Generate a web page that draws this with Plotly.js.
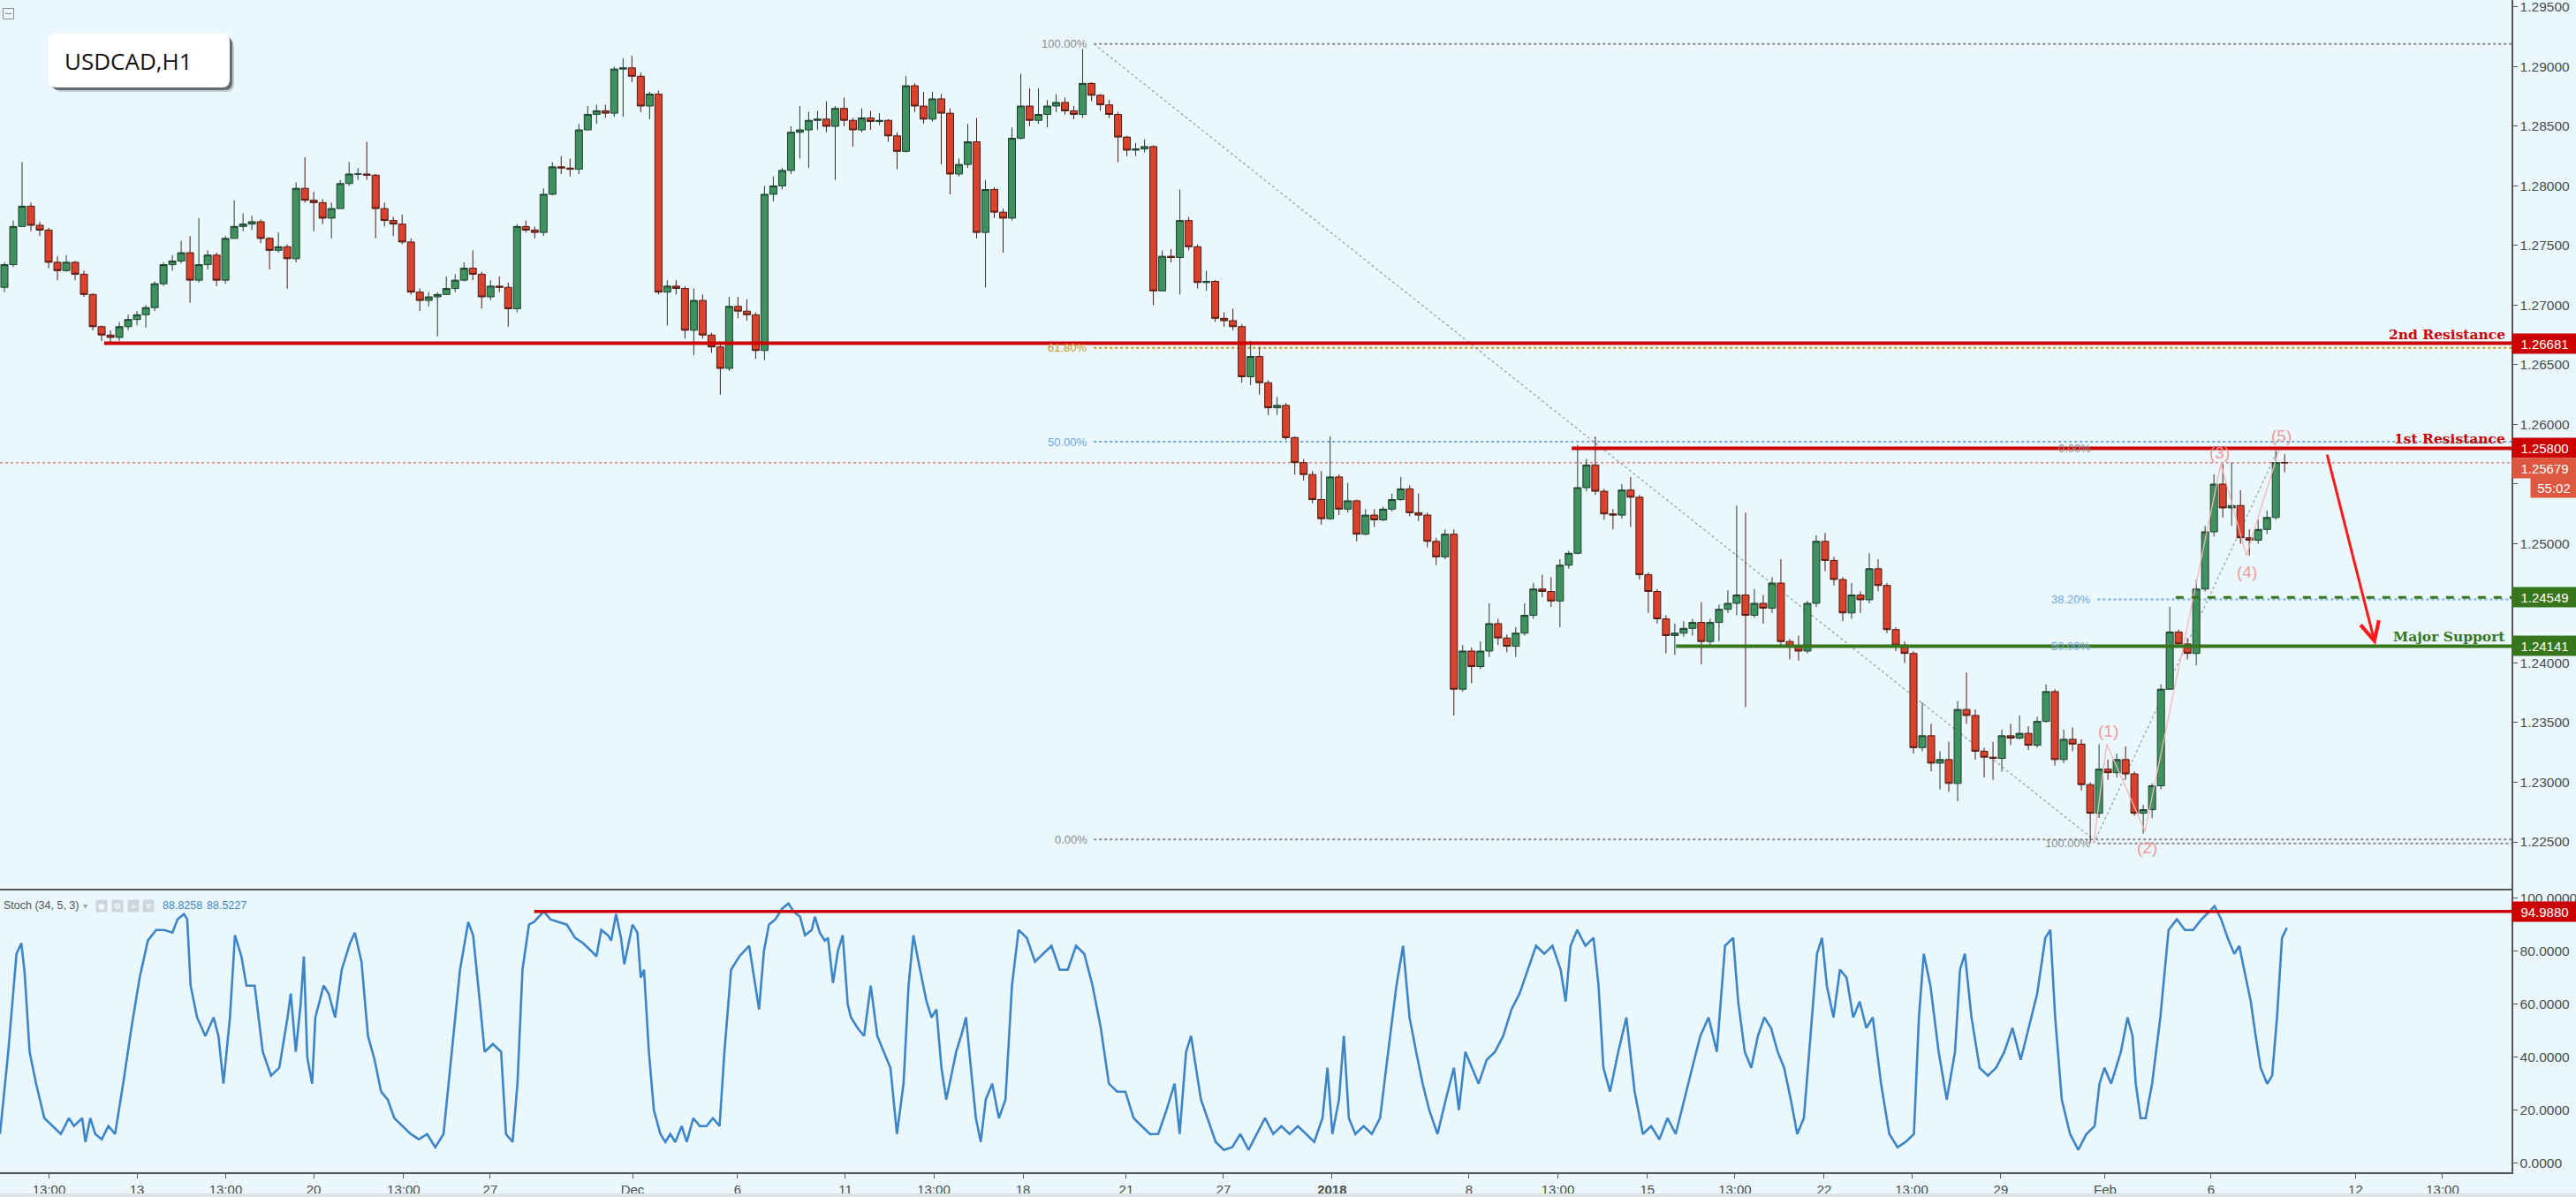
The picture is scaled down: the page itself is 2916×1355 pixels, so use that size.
<!DOCTYPE html>
<html><head><meta charset="utf-8">
<script src="https://cdn.plot.ly/plotly-3.0.1.min.js"></script>
<style>html,body{margin:0;padding:0;background:#eaf8fd;}#chart{width:2916px;height:1355px;}</style>
</head><body><div id="chart"></div>
<script>
// ---------- DATA (USDCAD H1, aggregated to 6-hour candles) ----------
const open = [1.2715,1.2734,1.2766,1.2783,1.2767,1.2763,1.2736,1.2729,1.2736,1.2726,
1.2709,1.2682,1.2675,1.2673,1.2682,1.2688,1.2692,1.2698,1.2718,1.2734,
1.2737,1.2744,1.2721,1.2734,1.2742,1.2721,1.2756,1.2766,1.2768,1.2770,
1.2756,1.2746,1.2749,1.2739,1.2798,1.2788,1.2786,1.2773,1.2781,1.2802,
1.2810,1.2810,1.2809,1.2781,1.2771,1.2768,1.2753,1.2711,1.2704,1.2707,
1.2709,1.2714,1.2721,1.2731,1.2726,1.2707,1.2716,1.2715,1.2697,1.2766,
1.2763,1.2761,1.2793,1.2816,1.2815,1.2814,1.2847,1.2860,1.2863,1.2861,
1.2898,1.2899,1.2892,1.2867,1.2877,1.2711,1.2716,1.2714,1.2679,1.2704,
1.2675,1.2665,1.2647,1.2699,1.2695,1.2692,1.2662,1.2793,1.2800,1.2813,
1.2845,1.2847,1.2855,1.2856,1.2850,1.2865,1.2855,1.2847,1.2857,1.2854,
1.2855,1.2842,1.2829,1.2884,1.2867,1.2856,1.2873,1.2861,1.2810,1.2818,
1.2837,1.2761,1.2797,1.2778,1.2773,1.2840,1.2867,1.2855,1.2860,1.2867,
1.2870,1.2863,1.2860,1.2886,1.2876,1.2868,1.2860,1.2841,1.2830,1.2831,
1.2833,1.2712,1.2741,1.2740,1.2771,1.2749,1.2719,1.2720,1.2689,1.2687,
1.2682,1.2640,1.2657,1.2635,1.2614,1.2616,1.2589,1.2568,1.2558,1.2537,
1.2521,1.2556,1.2529,1.2536,1.2508,1.2524,1.2520,1.2529,1.2537,1.2546,
1.2526,1.2524,1.2502,1.2489,1.2508,1.2378,1.2410,1.2397,1.2410,1.2433,
1.2421,1.2414,1.2425,1.2440,1.2462,1.2460,1.2452,1.2482,1.2492,1.2547,
1.2566,1.2544,1.2525,1.2524,1.2545,1.2539,1.2474,1.2460,1.2437,1.2423,
1.2425,1.2429,1.2434,1.2418,1.2434,1.2445,1.2450,1.2457,1.2440,1.2450,
1.2446,1.2467,1.2418,1.2414,1.2410,1.2450,1.2502,1.2486,1.2470,1.2442,
1.2457,1.2453,1.2479,1.2465,1.2428,1.2415,1.2408,1.2329,1.2339,1.2316,
1.2319,1.2299,1.2361,1.2356,1.2326,1.2321,1.2320,1.2339,1.2337,1.2341,
1.2331,1.2351,1.2376,1.2319,1.2336,1.2332,1.2298,1.2274,1.2311,1.2308,
1.2319,1.2307,1.2274,1.2277,1.2297,1.2378,1.2426,1.2416,1.2408,1.2462,
1.2510,1.2550,1.2530,1.2532,1.2505,1.2503,1.2512,1.2522,1.2568];
const high = [1.2736,1.2771,1.2820,1.2786,1.2770,1.2765,1.2741,1.2742,1.2737,1.2729,
1.2710,1.2683,1.2679,1.2686,1.2692,1.2695,1.2700,1.2720,1.2736,1.2742,
1.2754,1.2758,1.2773,1.2746,1.2744,1.2758,1.2788,1.2777,1.2775,1.2772,
1.2757,1.2761,1.2751,1.2803,1.2824,1.2795,1.2789,1.2786,1.2805,1.2820,
1.2815,1.2837,1.2810,1.2786,1.2774,1.2776,1.2756,1.2714,1.2711,1.2711,
1.2724,1.2726,1.2736,1.2746,1.2728,1.2721,1.2724,1.2719,1.2768,1.2771,
1.2766,1.2798,1.2820,1.2825,1.2823,1.2852,1.2867,1.2868,1.2868,1.2900,
1.2907,1.2909,1.2895,1.2879,1.2880,1.2721,1.2721,1.2716,1.2714,1.2709,
1.2677,1.2667,1.2707,1.2707,1.2705,1.2694,1.2800,1.2808,1.2815,1.2850,
1.2867,1.2862,1.2863,1.2871,1.2867,1.2874,1.2857,1.2865,1.2863,1.2861,
1.2856,1.2845,1.2892,1.2886,1.2879,1.2879,1.2877,1.2865,1.2823,1.2852,
1.2857,1.2805,1.2799,1.2781,1.2849,1.2894,1.2882,1.2882,1.2872,1.2877,
1.2874,1.2867,1.2915,1.2887,1.2877,1.2872,1.2862,1.2842,1.2836,1.2839,
1.2834,1.2746,1.2747,1.2797,1.2774,1.2751,1.2729,1.2721,1.2694,1.2697,
1.2684,1.2670,1.2665,1.2637,1.2623,1.2618,1.2590,1.2571,1.2561,1.2561,
1.2590,1.2558,1.2551,1.2537,1.2529,1.2529,1.2531,1.2542,1.2556,1.2549,
1.2542,1.2526,1.2505,1.2512,1.2512,1.2415,1.2413,1.2418,1.2450,1.2437,
1.2424,1.2430,1.2450,1.2467,1.2474,1.2472,1.2487,1.2494,1.2583,1.2571,
1.2590,1.2546,1.2529,1.2550,1.2556,1.2541,1.2476,1.2462,1.2440,1.2433,
1.2435,1.2437,1.2451,1.2437,1.2449,1.2461,1.2532,1.2526,1.2462,1.2457,
1.2472,1.2487,1.2420,1.2423,1.2452,1.2507,1.2509,1.2489,1.2472,1.2467,
1.2460,1.2492,1.2487,1.2467,1.2430,1.2418,1.2410,1.2367,1.2349,1.2326,
1.2334,1.2368,1.2392,1.2361,1.2329,1.2334,1.2344,1.2349,1.2356,1.2347,
1.2355,1.2382,1.2378,1.2344,1.2346,1.2336,1.2300,1.2332,1.2319,1.2324,
1.2330,1.2309,1.2281,1.2299,1.2382,1.2447,1.2428,1.2421,1.2470,1.2515,
1.2558,1.2567,1.2568,1.2545,1.2512,1.2520,1.2528,1.2578,1.2575];
const low = [1.2711,1.2732,1.2766,1.2762,1.2758,1.2731,1.2721,1.2728,1.2721,1.2707,
1.2679,1.2670,1.2668,1.2670,1.2679,1.2683,1.2681,1.2695,1.2716,1.2729,
1.2735,1.2702,1.2719,1.2730,1.2716,1.2718,1.2756,1.2762,1.2763,1.2752,
1.2730,1.2744,1.2714,1.2736,1.2786,1.2762,1.2768,1.2756,1.2781,1.2800,
1.2805,1.2805,1.2756,1.2766,1.2758,1.2751,1.2709,1.2695,1.2699,1.2674,
1.2709,1.2711,1.2720,1.2721,1.2697,1.2704,1.2711,1.2682,1.2694,1.2761,
1.2756,1.2758,1.2792,1.2810,1.2808,1.2810,1.2847,1.2852,1.2857,1.2858,
1.2858,1.2887,1.2862,1.2856,1.2709,1.2683,1.2709,1.2672,1.2658,1.2672,
1.2660,1.2625,1.2645,1.2689,1.2687,1.2655,1.2654,1.2787,1.2797,1.2810,
1.2823,1.2815,1.2847,1.2845,1.2805,1.2850,1.2833,1.2845,1.2847,1.2851,
1.2837,1.2814,1.2828,1.2862,1.2852,1.2854,1.2818,1.2793,1.2808,1.2815,
1.2756,1.2715,1.2773,1.2744,1.2771,1.2839,1.2850,1.2852,1.2849,1.2862,
1.2860,1.2856,1.2857,1.2871,1.2863,1.2857,1.2820,1.2825,1.2825,1.2828,
1.2700,1.2712,1.2736,1.2709,1.2746,1.2714,1.2712,1.2686,1.2682,1.2679,
1.2635,1.2633,1.2625,1.2608,1.2608,1.2587,1.2558,1.2553,1.2534,1.2516,
1.2520,1.2524,1.2526,1.2502,1.2507,1.2514,1.2519,1.2527,1.2536,1.2523,
1.2519,1.2497,1.2482,1.2487,1.2356,1.2376,1.2383,1.2395,1.2405,1.2415,
1.2409,1.2405,1.2423,1.2437,1.2455,1.2447,1.2430,1.2479,1.2491,1.2544,
1.2541,1.2520,1.2512,1.2521,1.2514,1.2470,1.2442,1.2433,1.2408,1.2407,
1.2422,1.2423,1.2399,1.2415,1.2418,1.2442,1.2440,1.2363,1.2438,1.2433,
1.2442,1.2415,1.2403,1.2402,1.2408,1.2447,1.2477,1.2465,1.2435,1.2437,
1.2442,1.2450,1.2460,1.2425,1.2410,1.2400,1.2324,1.2326,1.2309,1.2294,
1.2292,1.2284,1.2349,1.2319,1.2304,1.2302,1.2309,1.2331,1.2336,1.2327,
1.2329,1.2350,1.2314,1.2316,1.2326,1.2293,1.2249,1.2270,1.2302,1.2304,
1.2302,1.2272,1.2257,1.2270,1.2294,1.2378,1.2413,1.2403,1.2398,1.2460,
1.2506,1.2522,1.2515,1.2500,1.2490,1.2500,1.2508,1.2520,1.2560];
const close = [1.2734,1.2766,1.2783,1.2767,1.2763,1.2736,1.2729,1.2736,1.2726,1.2709,
1.2682,1.2675,1.2673,1.2682,1.2688,1.2692,1.2698,1.2718,1.2734,1.2737,
1.2744,1.2721,1.2734,1.2742,1.2721,1.2756,1.2766,1.2768,1.2770,1.2756,
1.2746,1.2749,1.2739,1.2798,1.2788,1.2786,1.2773,1.2781,1.2802,1.2810,
1.2810,1.2809,1.2781,1.2771,1.2768,1.2753,1.2711,1.2704,1.2707,1.2709,
1.2714,1.2721,1.2731,1.2726,1.2707,1.2716,1.2715,1.2697,1.2766,1.2763,
1.2761,1.2793,1.2816,1.2815,1.2814,1.2847,1.2860,1.2863,1.2861,1.2898,
1.2899,1.2892,1.2867,1.2877,1.2711,1.2716,1.2714,1.2679,1.2704,1.2675,
1.2665,1.2647,1.2699,1.2695,1.2692,1.2662,1.2793,1.2800,1.2813,1.2845,
1.2847,1.2855,1.2856,1.2850,1.2865,1.2855,1.2847,1.2857,1.2854,1.2855,
1.2842,1.2829,1.2884,1.2867,1.2856,1.2873,1.2861,1.2810,1.2818,1.2837,
1.2761,1.2797,1.2778,1.2773,1.2840,1.2867,1.2855,1.2860,1.2867,1.2870,
1.2863,1.2860,1.2886,1.2876,1.2868,1.2860,1.2841,1.2830,1.2831,1.2833,
1.2712,1.2741,1.2740,1.2771,1.2749,1.2719,1.2720,1.2689,1.2687,1.2682,
1.2640,1.2657,1.2635,1.2614,1.2616,1.2589,1.2568,1.2558,1.2537,1.2521,
1.2556,1.2529,1.2536,1.2508,1.2524,1.2520,1.2529,1.2537,1.2546,1.2526,
1.2524,1.2502,1.2489,1.2508,1.2378,1.2410,1.2397,1.2410,1.2433,1.2421,
1.2414,1.2425,1.2440,1.2462,1.2460,1.2452,1.2482,1.2492,1.2547,1.2566,
1.2544,1.2525,1.2524,1.2545,1.2539,1.2474,1.2460,1.2437,1.2423,1.2425,
1.2429,1.2434,1.2418,1.2434,1.2445,1.2450,1.2457,1.2440,1.2450,1.2446,
1.2467,1.2418,1.2414,1.2410,1.2450,1.2502,1.2486,1.2470,1.2442,1.2457,
1.2453,1.2479,1.2465,1.2428,1.2415,1.2408,1.2329,1.2339,1.2316,1.2319,
1.2299,1.2361,1.2356,1.2326,1.2321,1.2320,1.2339,1.2337,1.2341,1.2331,
1.2351,1.2376,1.2319,1.2336,1.2332,1.2298,1.2274,1.2311,1.2308,1.2319,
1.2307,1.2274,1.2277,1.2297,1.2378,1.2426,1.2416,1.2408,1.2462,1.2510,
1.2550,1.2530,1.2532,1.2505,1.2503,1.2512,1.2522,1.2568,1.25679];

// Stochastic (34,5,3) %K, positions in trading hours from the left edge
const stochHour = [0,5.6,11.2,14.5,16.7,20.1,24.5,30.1,35.7,41.3,46.8,50.2,55.8,58,61.3,64.7,69.1,73.6,78.1,83.6,89.2,94.8,100.4,106,111.5,117.1,120.5,124.9,127.1,129.4,133.8,139.4,145,148.3,151.7,156.1,159.5,163.9,167.3,172.9,178.4,184,189.6,195.2,197.4,200.8,204.1,206.3,208.6,211.9,214.1,219.7,223.1,227.5,232,237.6,240.9,245.4,249.8,254.3,258.7,263.2,267.7,273.2,278.8,284.4,290,295.5,301.1,306.7,312.3,317.9,321.2,325.7,329,334.6,340.2,343.5,348,351.3,354.7,359.1,362.5,369.2,373.6,379.2,384.8,390.4,395.9,401.5,404.9,408.2,412.7,414.9,418.2,421.6,423.8,429.4,432.7,435,437.2,440.5,443.9,448.3,451.7,455,458.4,462.8,466.2,470.7,475.1,479.6,484,488.5,491.8,496.3,501.9,508.6,511.9,515.3,518.6,522,526.4,530.9,535.3,538.7,543.1,546.5,551,553.2,556.5,559.9,562.1,565.5,568.8,572.1,575.5,577.7,582.2,586.6,591.1,595.6,600,604.5,608.9,613.4,616.8,620.1,624.6,629,632.4,635.7,639.1,642.4,645.8,649.1,652.5,655.8,659.1,662.5,665.8,669.2,673.6,678.1,682.6,687,691.5,697.1,702.6,708.2,713.8,719.4,724.9,730.5,736.1,741.7,747.3,752.8,758.4,764,769.6,775.1,780.7,786.3,791.9,797.4,800.8,805.2,808.6,811.9,815.3,819.7,825.3,830.9,836.5,842,847.6,853.2,858.8,864.4,869.9,875.5,881.1,886.7,892.2,897.8,901.2,904.5,909,912.3,915.7,920.1,925.7,931.3,936.9,942.4,948,952.5,956.9,961.4,965.8,970.3,975.9,981.5,987,990.4,994.8,999.3,1003.8,1009.3,1014.9,1020.5,1026.1,1031.6,1037.2,1042.8,1048.4,1053.9,1059.5,1062.9,1066.2,1070.7,1076.3,1081.8,1085.2,1088.5,1093,1098.6,1104.1,1109.7,1115.3,1120.9,1126.5,1132,1137.6,1143.2,1148.8,1154.3,1159.9,1165.5,1171.1,1176.6,1180,1184.5,1188.9,1193.4,1197.8,1202.3,1206.8,1211.2,1215.7,1220.1,1224.6,1229.1,1233.5,1236.9,1240.2,1244.7,1249.1,1253.6,1258.1,1262.5,1267,1271.4,1277,1282.6,1288.2,1293.7,1299.3,1302.7,1306,1310.5,1316.1,1321.6,1327.2,1330.6,1333.9,1338.4,1343.9,1349.5,1355.1,1360.7,1366.2,1371.8,1377.4,1383,1388.5,1391.9,1395.2,1399.7,1405.3,1410.9,1416.4,1422,1425.3,1428.7,1433.2,1436.5,1439.8,1444.3,1447.7,1449.9,1453.2,1456.6,1461,1466.6,1470,1472.2,1477.8,1483.3,1488.9,1494.5,1500.1,1503.4,1507.9,1512.3,1516.8,1520.2,1523.5,1528,1531.3,1534.7,1539.1,1542.5,1545.8,1549.2,1552.5];
const stochK = [11,42,79,83,72,42,30,17,14,11,17,14,17,8,17,11,9,14,11,30,51,70,84,88,88,87,92,94,92,67,55,48,55,48,30,55,86,78,67,67,42,33,36,55,64,42,60,78,40,30,55,67,64,55,73,83,87,76,48,39,27,24,17,14,11,9,11,6,11,42,73,91,86,61,42,45,42,11,8,30,73,90,91,95,92,91,90,85,83,80,78,88,86,84,94,85,75,90,87,70,73,42,20,11,8,11,8,14,8,17,14,14,17,14,42,73,78,82,70,58,80,90,92,96,98,95,93,86,88,93,87,84,85,68,80,86,60,55,51,48,67,48,42,36,11,30,67,86,73,61,55,58,36,24,33,42,48,55,36,17,8,24,30,17,24,67,88,85,76,79,82,73,73,82,79,67,51,30,27,27,17,14,11,11,20,30,11,42,48,36,24,17,8,5,6,11,5,11,17,11,14,11,14,11,8,17,36,11,24,48,17,11,14,11,17,42,67,82,55,42,30,20,11,24,36,20,42,36,30,39,42,48,58,64,73,82,79,82,73,61,82,88,82,85,67,36,27,42,55,27,11,14,9,17,11,24,36,48,55,42,82,85,61,42,36,48,55,51,42,36,24,11,17,48,79,85,67,55,73,70,55,61,51,55,30,11,6,8,11,55,79,67,42,24,42,73,79,55,36,33,36,42,51,39,51,64,85,88,55,24,11,5,11,14,30,36,30,36,42,55,48,30,17,17,30,55,76,88,92,88,88,92,95,97,92,85,79,82,73,61,48,36,30,33,55,85,88.8258];

// Axis labels
const xTickHour = [33.3,93,153.2,212.9,274,332.8,429.4,500.7,573.9,633.9,694.5,764.6,830.6,904.3,997.3,1057.6,1118.4,1177.8,1238.4,1297.8,1358.3,1429.1,1501,1599.1,1658.2];
const xTickText = ['13:00','13','13:00','20','13:00','27','Dec','6','11','13:00','18','21','27','<b>2018</b>','8','13:00','15','13:00','22','13:00','29','Feb','6','12','13:00'];
const priceTicks = [1.225,1.230,1.235,1.240,1.245,1.250,1.255,1.260,1.265,1.270,1.275,1.280,1.285,1.290,1.295];
const hiddenPriceTicks = [1.245, 1.255]; // covered by the value boxes in the picture
const stochTicks = [0,20,40,60,80,100];

// Analysis levels
const resistance2 = 1.26681, resistance1 = 1.25800, support2 = 1.24549, majorSupport = 1.24141;
const lastPrice = 1.25679, stochLevel = 94.988;
const fib1Levels = [1.29190,1.26642,1.25855,1.22520];
const fib1Labels = ['100.00%','61.80%','50.00%','0.00%'];
const fib2Levels = [1.25800,1.24534,1.24144,1.22487];
const fib2Labels = ['0.00%','38.20%','50.00%','100.00%'];
const waveHour = [1421.3,1430.2,1456.2,1507.7,1525,1547];
const wavePrice = [1.2249,1.2332,1.2259,1.2567,1.2490,1.2578];
const waveLabels = ['','(1)','(2)','(3)','(4)','(5)'];
const stochHeaderVals = ['88.8258','88.5227'];

// ---------- CHART ----------
const PW = 2843, PH = 1327, XMAX = 1705;
const SPLIT = (PH - 1007) / PH;
const barHour = open.map((_, i) => i * 6 + 3);
const BG = '#eaf8fd', FONT = 'Liberation Sans, Arial, sans-serif';
const px = v => v / PW, py = v => (PH - v) / PH;

const fib1Colors = ['#8a8a8a','#c9971c','#6fa8dc','#8a8a8a'];
const fib2Colors = ['#8a8a8a','#6fa8dc','#6fa8dc','#8a8a8a'];

const data = [
  {type:'candlestick', x:barHour, open, high, low, close, xaxis:'x', yaxis:'y',
   increasing:{line:{color:'#1e3f2b', width:1}, fillcolor:'#3f9160'},
   decreasing:{line:{color:'#4e1a12', width:1}, fillcolor:'#d9432d'},
   whiskerwidth:0, hoverinfo:'skip', showlegend:false},
  {type:'scatter', mode:'lines', x:waveHour, y:wavePrice, xaxis:'x', yaxis:'y',
   line:{color:'#f5b5b5', width:1.3}, hoverinfo:'skip', showlegend:false},
  {type:'scatter', mode:'lines', x:stochHour, y:stochK, xaxis:'x', yaxis:'y2',
   line:{color:'#3d85c6', width:2.6}, hoverinfo:'skip', showlegend:false}
];

const shapes = [];
const annotations = [];
function hline(x0, y, color, width, dash, yref, layer){
  shapes.push({type:'line', xref:'x', yref:yref||'y', x0:x0, x1:XMAX, y0:y, y1:y,
    line:{color, width, dash:dash||'solid'}, layer:layer||'above'});
}
// Fibonacci retracements
fib1Levels.forEach((lv,i)=>{
  hline(742.6, lv, fib1Colors[i], 2, 'dot', 'y', 'below');
  annotations.push({xref:'x', yref:'y', x:739.6, y:lv, xanchor:'right', yanchor:'middle', showarrow:false,
    text:fib1Labels[i], font:{family:FONT, size:13, color:fib1Colors[i]}});
});
fib2Levels.forEach((lv,i)=>{
  hline(1424, lv, fib2Colors[i], 2, 'dot', 'y', 'below');
  annotations.push({xref:'x', yref:'y', x:1420.5, y:lv, xanchor:'right', yanchor:'middle', showarrow:false,
    text:fib2Labels[i], font:{family:FONT, size:13, color:fib2Colors[i]}});
});
shapes.push({type:'line', xref:'x', yref:'y', x0:742.6, y0:fib1Levels[0], x1:1421.3, y1:fib1Levels[3],
  line:{color:'#9aa0a4', width:1.3, dash:'dot'}, layer:'below'});
shapes.push({type:'line', xref:'x', yref:'y', x0:1421.3, y0:fib2Levels[3], x1:1547, y1:fib2Levels[0],
  line:{color:'#9aa0a4', width:1.3, dash:'dot'}, layer:'below'});
// last price line
shapes.push({type:'line', xref:'paper', yref:'y', x0:0, x1:1, y0:lastPrice, y1:lastPrice,
  line:{color:'#d0503e', width:1, dash:'dot'}, layer:'below'});
// resistance / support
hline(70.7, resistance2, '#cc0000', 4);
hline(1067, resistance1, '#cc0000', 4);
hline(1137.8, majorSupport, '#38761d', 4);
hline(1477, support2, '#38761d', 3, 'dash');
hline(362.6, stochLevel, '#cc0000', 3.5, 'solid', 'y2');
// panel separator
shapes.push({type:'line', xref:'paper', yref:'paper', x0:0, x1:1, y0:SPLIT, y1:SPLIT, line:{color:'#555', width:2}});
// bottom strip
shapes.push({type:'rect', xref:'paper', yref:'paper', x0:0, x1:2916/PW, y0:py(1355), y1:py(1351), fillcolor:'#dde2e5', line:{width:0}});

// title box
function rr(x0,y0,x1,y1,r){
  const rx=r/PW, ry=r/PH, X0=px(x0), X1=px(x1), Y0=py(y0), Y1=py(y1);
  return `M${X0+rx},${Y0} L${X1-rx},${Y0} Q${X1},${Y0} ${X1},${Y0-ry} L${X1},${Y1+ry} Q${X1},${Y1} ${X1-rx},${Y1} L${X0+rx},${Y1} Q${X0},${Y1} ${X0},${Y1+ry} L${X0},${Y0-ry} Q${X0},${Y0} ${X0+rx},${Y0} Z`;
}
shapes.push({type:'path', xref:'paper', yref:'paper', path:rr(61,44,265,104,9), fillcolor:'rgba(0,0,0,0.18)', line:{width:0}});
shapes.push({type:'path', xref:'paper', yref:'paper', path:rr(58,41,263,102,9), fillcolor:'rgba(30,30,30,0.55)', line:{width:0}});
shapes.push({type:'path', xref:'paper', yref:'paper', path:rr(55,38,260,99,9), fillcolor:'#ffffff', line:{width:0}});
annotations.push({xref:'paper', yref:'paper', x:px(71), y:py(69), xanchor:'left', yanchor:'middle', showarrow:false,
  text:'USDCAD,H1', font:{family:'Open Sans, sans-serif', size:26, color:'#111'}});
// collapse icon
shapes.push({type:'rect', xref:'paper', yref:'paper', x0:px(3.5), x1:px(15.5), y0:py(21.5), y1:py(9.5), line:{color:'#8a8a8a', width:1}});
shapes.push({type:'line', xref:'paper', yref:'paper', x0:px(6), x1:px(13), y0:py(15.5), y1:py(15.5), line:{color:'#8a8a8a', width:1}});

// level text labels
const lvlLabels = [['2nd Resistance', resistance2, '#cc0000'], ['1st Resistance', resistance1, '#cc0000'], ['Major Support', majorSupport, '#38761d']];
lvlLabels.forEach(([t, y, c]) => annotations.push({xref:'paper', yref:'y', x:px(2837), y, xanchor:'right', yanchor:'bottom', yshift:0,
  showarrow:false, text:'<b>'+t+'</b>', font:{family:'DejaVu Serif, serif', size:15.5, color:c}, borderpad:0}));

// right axis value boxes
function box(text, y, yref, bg, x0, w, yshift){
  annotations.push({xref:'paper', yref, x:px(x0), y, xanchor:'left', yanchor:'middle', yshift:yshift||0, showarrow:false,
    text, bgcolor:bg, width:w, height:20, borderpad:1, align:'center',
    font:{family:FONT, size:15, color:'#ffffff'}});
}
box(resistance2.toFixed(5), resistance2, 'y', '#cc0000', 2843, 71);
box(resistance1.toFixed(5), resistance1, 'y', '#cc0000', 2843, 71);
box(lastPrice.toFixed(5), lastPrice, 'y', '#dd5741', 2843, 71, -5.7);
box('55:02', lastPrice, 'y', '#dd5741', 2864, 50, -27.7);
box(support2.toFixed(5), support2, 'y', '#38761d', 2843, 71);
box(majorSupport.toFixed(5), majorSupport, 'y', '#38761d', 2843, 71);
box(stochLevel.toFixed(4), stochLevel, 'y2', '#cc0000', 2843, 71);

// wave labels
const waveShift = [0, 15, -19, 13, -19, 17];
const waveDx = [0, 1.3, 1.7, -1.2, 0.4, 2];
waveLabels.forEach((t,i)=>{ if(!t) return;
  annotations.push({xref:'x', yref:'y', x:waveHour[i] + waveDx[i], y:wavePrice[i], yshift:waveShift[i],
    xanchor:'center', yanchor:'middle', showarrow:false, text:t, font:{family:FONT, size:19, color:'#f09a9a'}});
});
// projected move arrow
annotations.push({xref:'x', yref:'y', x:1612.6, y:1.24152, axref:'x', ayref:'y', ax:1579.6, ay:1.25759,
  showarrow:true, arrowhead:5, arrowsize:1.4, arrowwidth:3, arrowcolor:'#ff1a1a', text:'', standoff:0, startstandoff:0});

// stoch header
annotations.push({xref:'paper', yref:'paper', x:px(2), y:py(1025), xanchor:'left', yanchor:'middle', showarrow:false,
  text:'Stoch (34, 5, 3)', font:{family:FONT, size:12.5, color:'#555'}});
annotations.push({xref:'paper', yref:'paper', x:px(92), y:py(1025), xanchor:'left', yanchor:'middle', showarrow:false,
  text:'▾', font:{family:'DejaVu Sans', size:10, color:'#a0a0a0'}});
['◉','⚙','+','✕'].forEach((s,i)=>annotations.push({xref:'paper', yref:'paper', x:px([108,126,143.5,161][i]), y:py(1025),
  xanchor:'left', yanchor:'middle', showarrow:false, text:s, bgcolor:'#ccd6db', width:12, height:13, borderpad:0,
  font:{family:'DejaVu Sans', size:9.5, color:'#ffffff'}}));
stochHeaderVals.forEach((v,i)=>annotations.push({xref:'paper', yref:'paper', x:px([182,231.5][i]), y:py(1025),
  xanchor:'left', yanchor:'middle', showarrow:false, text:v, font:{family:FONT, size:12.5, color:'#3d85c6'}}));

const axisFont = {family:FONT, size:15.5, color:'#4d4d4d'};
const layout = {
  width:2916, height:1355, margin:{l:0, r:73, t:0, b:28, pad:0},
  paper_bgcolor:BG, plot_bgcolor:BG, showlegend:false, hovermode:false, boxgap:0.2, boxgroupgap:0,
  font:{family:FONT, color:'#4d4d4d'},
  xaxis:{type:'linear', range:[0, XMAX], anchor:'y2', tickmode:'array', tickvals:xTickHour, ticktext:xTickText,
    ticks:'outside', ticklen:5, tickcolor:'#555', tickwidth:1, showgrid:false, zeroline:false,
    showline:true, linecolor:'#555', linewidth:1.5, rangeslider:{visible:false}, fixedrange:true,
    tickfont:{family:FONT, size:15, color:'#4d4d4d'}, automargin:false, ticklabeloverflow:'allow'},
  yaxis:{domain:[SPLIT, 1], range:[1.22100, 1.29559], side:'right', anchor:'x', tickmode:'array', tickvals:priceTicks,
    ticktext:priceTicks.map(v=>hiddenPriceTicks.includes(v) ? '' : v.toFixed(5)), ticks:'outside', ticklen:5, tickcolor:'#555', showgrid:false, zeroline:false,
    showline:true, linecolor:'#555', linewidth:1.5, tickfont:axisFont, automargin:false, fixedrange:true, ticklabeloverflow:'allow'},
  yaxis2:{domain:[0, SPLIT], range:[-3.43, 103.23], side:'right', anchor:'x', tickmode:'array', tickvals:stochTicks,
    ticktext:stochTicks.map(v=>v.toFixed(4)), ticks:'outside', ticklen:5, tickcolor:'#555', showgrid:false, zeroline:false,
    showline:true, linecolor:'#555', linewidth:1.5, tickfont:axisFont, automargin:false, fixedrange:true, ticklabeloverflow:'allow'},
  shapes, annotations
};
Plotly.newPlot('chart', data, layout, {staticPlot:true, displayModeBar:false});
</script></body></html>
